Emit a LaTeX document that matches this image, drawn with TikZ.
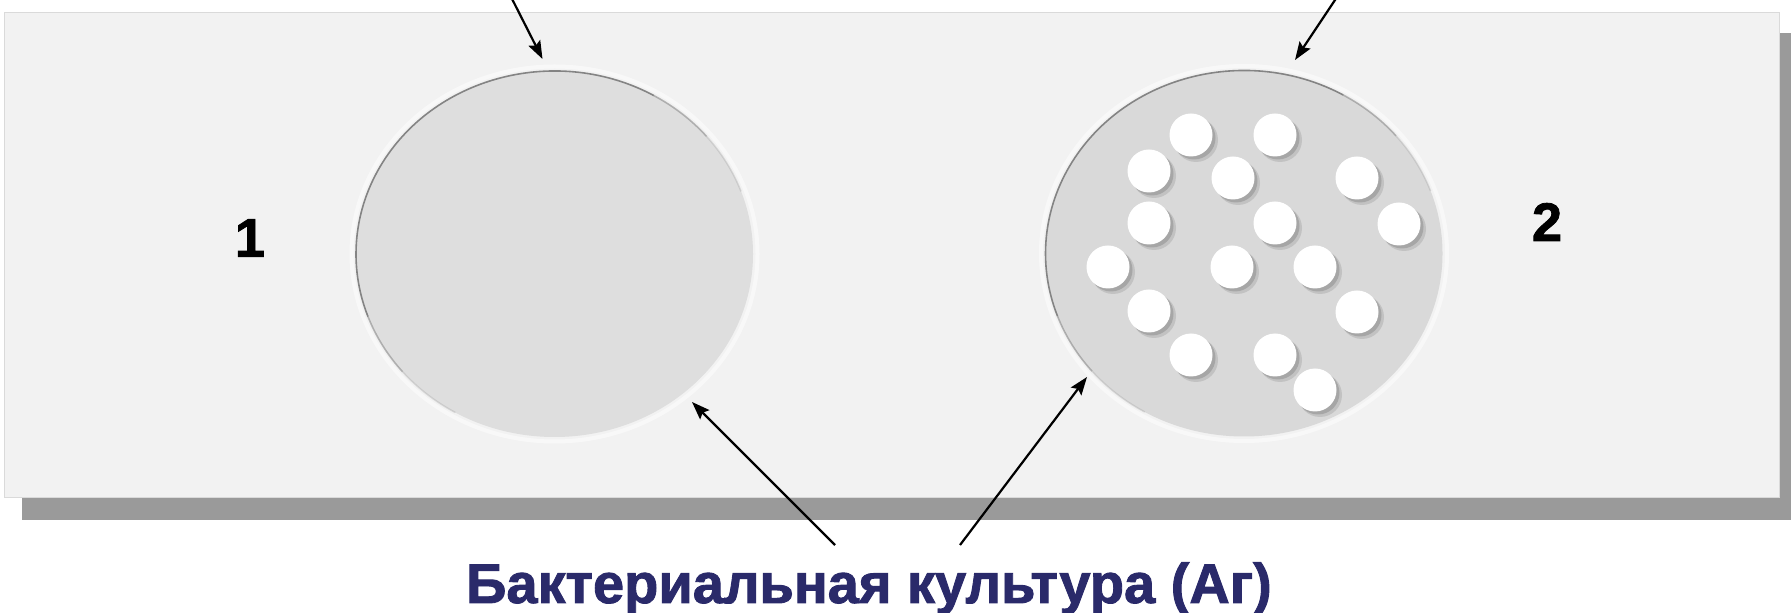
\documentclass[tikz,border=0pt]{standalone}
\usepackage{fontspec}
\setmainfont{Liberation Sans}
\newfontfamily\heavyfont[FakeBold=1.6]{Liberation Sans}
\usetikzlibrary{arrows.meta}
\definecolor{slidefill}{HTML}{F2F2F2}
\definecolor{slideedge}{HTML}{DADADA}
\definecolor{shadowc}{HTML}{9A9A9A}
\definecolor{plateone}{HTML}{DEDEDE}
\definecolor{platetwo}{HTML}{D9D9D9}
\definecolor{rimc}{HTML}{7A7A7A}
\definecolor{navy}{HTML}{2A2A6A}
\definecolor{colshadow}{HTML}{A6A6A6}
\begin{document}
\begin{tikzpicture}[x=0.5pt,y=0.5pt,
  arr/.style={draw=black, line width=1.1pt, -{Stealth[length=9pt,width=6.5pt,inset=1.5pt]}},
  numlabel/.style={font=\fontsize{27}{27}\heavyfont\bfseries, text=black, inner sep=0},
  mainlabel/.style={font=\fontsize{28}{30}\heavyfont\bfseries, text=navy, inner sep=0, anchor=base},
  rim/.style={draw=rimc, line width=0.8pt}
]
\fill[white] (0,0) rectangle (1791,-613);
\useasboundingbox (0,0) rectangle (1791,-613);
\clip (0,0) rectangle (1791,-613);

% slide with shadow
\fill[shadowc] (22,-33) rectangle (1800,-520);
\filldraw[fill=slidefill, draw=slideedge, line width=0.5pt] (4,-13) rectangle (1779,-498);

% plate centres
\coordinate (c1) at (554.5,-254);
\coordinate (c2) at (1244,-253.5);

% faint halos
\draw[white, opacity=0.5, line width=2pt] (c1) ellipse [x radius=203, y radius=187.5];
\draw[white, opacity=0.5, line width=2pt] (c2) ellipse [x radius=203, y radius=187.5];

% plate 1
\fill[plateone] (c1) ellipse [x radius=198.5, y radius=183];
\foreach \s/\e/\o in {20/40/0.2, 40/60/0.5, 60/200/0.9, 200/220/0.5, 220/240/0.2}
  \draw[rim, opacity=\o] ([shift={(\s:198.5 and 183)}]c1) arc[start angle=\s, end angle=\e, x radius=198.5, y radius=183];

% plate 2
\fill[platetwo] (c2) ellipse [x radius=198.5, y radius=183];
\foreach \s/\e/\o in {20/40/0.2, 40/60/0.5, 60/200/0.9, 200/220/0.5, 220/240/0.2}
  \draw[rim, opacity=\o] ([shift={(\s:198.5 and 183)}]c2) arc[start angle=\s, end angle=\e, x radius=198.5, y radius=183];

% colonies
\foreach \x/\y in {1191/135, 1275/135, 1149/171, 1233/178, 1357/178,
                   1149/223, 1275/223, 1399/224, 1108/267, 1232/267,
                   1315/267, 1149/311, 1357/312, 1191/355, 1275/355, 1315/390}{
  \fill[colshadow, opacity=0.45] (\x+5,-\y-5) circle (22);
  \fill[colshadow] (\x+3,-\y-3) circle (21.5);
  \fill[white] (\x,-\y) circle (21.5);
}

% labels
\node[numlabel] (n1) at (250,-238) {1};
\node[numlabel] (n2) at (1547,-222) {2};
\node[mainlabel] (lbl) at (869,-603) {Бактериальная культура (Аг)};

% arrow ends
\coordinate (topL) at (507.5,10);
\coordinate (tipTL) at (542.5,-59);
\coordinate (topR) at (1341.7,10);
\coordinate (tipTR) at (1295,-60);
\coordinate (tailBL) at (835,-545);
\coordinate (tipBL) at (692,-402);
\coordinate (tailBR) at (960,-545);
\coordinate (tipBR) at (1087,-377);

\draw[arr] (topL) -- (tipTL);
\draw[arr] (topR) -- (tipTR);
\draw[arr] (tailBL) -- (tipBL);
\draw[arr] (tailBR) -- (tipBR);
\end{tikzpicture}
\end{document}
